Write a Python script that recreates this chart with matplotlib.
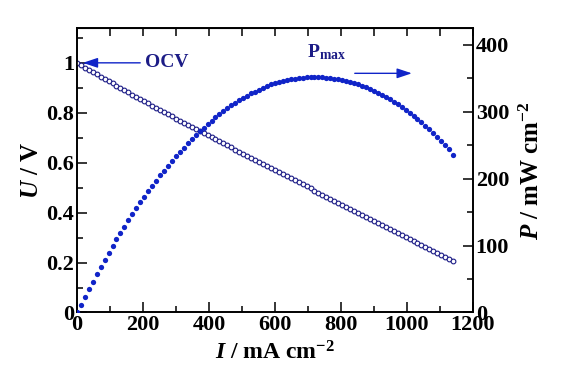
import matplotlib
matplotlib.use("Agg")
import matplotlib.pyplot as plt
from matplotlib.ticker import MultipleLocator

plt.rcParams["font.family"] = "Liberation Serif"
plt.rcParams["font.weight"] = "bold"
plt.rcParams["axes.labelweight"] = "bold"
plt.rcParams["mathtext.fontset"] = "custom"
plt.rcParams["mathtext.rm"] = "Liberation Serif:bold"
plt.rcParams["mathtext.bf"] = "Liberation Serif:bold"
plt.rcParams["mathtext.it"] = "Liberation Serif:italic:bold"
plt.rcParams["mathtext.bfit"] = "Liberation Serif:italic:bold"

# current density, mA cm-2
current = [
    0, 12, 24, 36, 48, 60, 72, 84, 96, 108, 120, 132, 144, 156, 168, 180,
    192, 204, 216, 228, 240, 252, 264, 276, 288, 300, 312, 324, 336, 348,
    360, 372, 384, 396, 408, 420, 432, 444, 456, 468, 480, 492, 504, 516,
    528, 540, 552, 564, 576, 588, 600, 612, 624, 636, 648, 660, 672, 684,
    696, 708, 720, 732, 744, 756, 768, 780, 792, 804, 816, 828, 840, 852,
    864, 876, 888, 900, 912, 924, 936, 948, 960, 972, 984, 996, 1008, 1020,
    1032, 1044, 1056, 1068, 1080, 1092, 1104, 1116, 1128, 1140,
]

# cell voltage, V
voltage = [
    1.000, 0.990, 0.981, 0.972, 0.963, 0.954, 0.945, 0.936, 0.927, 0.918,
    0.909, 0.900, 0.891, 0.882, 0.873, 0.864, 0.856, 0.847, 0.838, 0.829,
    0.820, 0.812, 0.803, 0.794, 0.786, 0.777, 0.769, 0.760, 0.752, 0.743,
    0.735, 0.727, 0.718, 0.710, 0.702, 0.694, 0.685, 0.677, 0.669, 0.661,
    0.652, 0.644, 0.636, 0.628, 0.620, 0.611, 0.603, 0.595, 0.587, 0.579,
    0.570, 0.562, 0.554, 0.546, 0.538, 0.529, 0.521, 0.513, 0.505, 0.497,
    0.488, 0.480, 0.472, 0.464, 0.456, 0.448, 0.440, 0.432, 0.424, 0.416,
    0.408, 0.400, 0.392, 0.384, 0.376, 0.368, 0.360, 0.352, 0.344, 0.336,
    0.328, 0.320, 0.312, 0.304, 0.296, 0.288, 0.280, 0.272, 0.264, 0.256,
    0.248, 0.240, 0.232, 0.224, 0.216, 0.206,
]

# power density, mW cm-2
power = [
    0.0, 11.9, 23.5, 35.0, 46.2, 57.2, 68.0, 78.6, 89.0, 99.1,
    109.1, 118.8, 128.3, 137.6, 146.7, 155.5, 164.4, 172.8, 181.0, 189.0,
    196.8, 204.6, 212.0, 219.1, 226.4, 233.1, 239.9, 246.2, 252.7, 258.6,
    264.6, 270.4, 275.7, 281.2, 286.4, 291.5, 295.9, 300.6, 305.1, 309.3,
    313.0, 316.8, 320.5, 324.0, 327.4, 329.9, 332.9, 335.6, 338.1, 340.5,
    342.0, 343.9, 345.7, 347.3, 348.6, 349.1, 350.1, 350.9, 351.5, 351.9,
    351.4, 351.4, 351.2, 350.8, 350.2, 349.4, 348.5, 347.3, 346.0, 344.4,
    342.7, 340.8, 338.7, 336.4, 333.9, 331.2, 328.3, 325.2, 322.0, 318.5,
    314.9, 311.0, 307.0, 302.8, 298.4, 293.8, 289.0, 284.0, 278.8, 273.4,
    267.8, 262.1, 256.1, 250.0, 243.6, 235.0,
]

navy = "#1c1c86"
blue = "#1024c8"

fig = plt.figure(figsize=(5.61, 3.82), dpi=100)
ax = fig.add_axes([0.137, 0.182, 0.706, 0.745])
ax2 = ax.twinx()

ax.plot(current, voltage, "o", ms=3.4, mfc="white", mec=navy, mew=0.8, zorder=3)
ax2.plot(current, power, "o", ms=3.8, mfc=blue, mec=blue, mew=0, zorder=3)

ax.set_xlim(0, 1200)
ax.set_ylim(0, 1.14)
ax2.set_ylim(0, 425)

ax.xaxis.set_major_locator(MultipleLocator(200))
ax.xaxis.set_minor_locator(MultipleLocator(100))
ax.yaxis.set_major_locator(MultipleLocator(0.2))
ax.yaxis.set_minor_locator(MultipleLocator(0.1))
ax2.yaxis.set_major_locator(MultipleLocator(100))
ax2.yaxis.set_minor_locator(MultipleLocator(50))

ax.set_yticks([0, 0.2, 0.4, 0.6, 0.8, 1.0], ["0", "0.2", "0.4", "0.6", "0.8", "1"])

for a in (ax, ax2):
    a.tick_params(which="major", direction="in", length=7, width=1.1,
                  labelsize=16, pad=2)
    a.tick_params(which="minor", direction="in", length=4.5, width=1.1)
    for s in a.spines.values():
        s.set_linewidth(1.2)

top = ax.secondary_xaxis("top")
top.xaxis.set_major_locator(MultipleLocator(100))
top.tick_params(direction="in", length=6, width=1.1, labeltop=False)

ax.set_xlabel(r"$\mathbfit{I}$ / mA cm$^{-2}$", fontsize=17, labelpad=4)
ax.set_ylabel(r"$\mathbfit{U}$ / V", fontsize=18, labelpad=2)
ax2.set_ylabel(r"$\mathbfit{P}$ / mW cm$^{-2}$", fontsize=18, labelpad=8)

ax.annotate("", xy=(18, 1.0), xytext=(192, 1.0),
            arrowprops=dict(arrowstyle="-|>,head_length=0.9,head_width=0.3",
                            color=blue, lw=1.0, shrinkA=0, shrinkB=0))
ax.text(206, 1.0, "OCV", color=navy, fontsize=14, ha="left", va="center")

ax.annotate("", xy=(1015, 0.958), xytext=(842, 0.958),
            arrowprops=dict(arrowstyle="-|>,head_length=0.9,head_width=0.3",
                            color=blue, lw=1.0, shrinkA=0, shrinkB=0))
ax.text(757, 1.042, r"P$_{\mathbf{max}}$", color=navy, fontsize=14,
        ha="center", va="center")

fig.savefig("out.png", dpi=100)
